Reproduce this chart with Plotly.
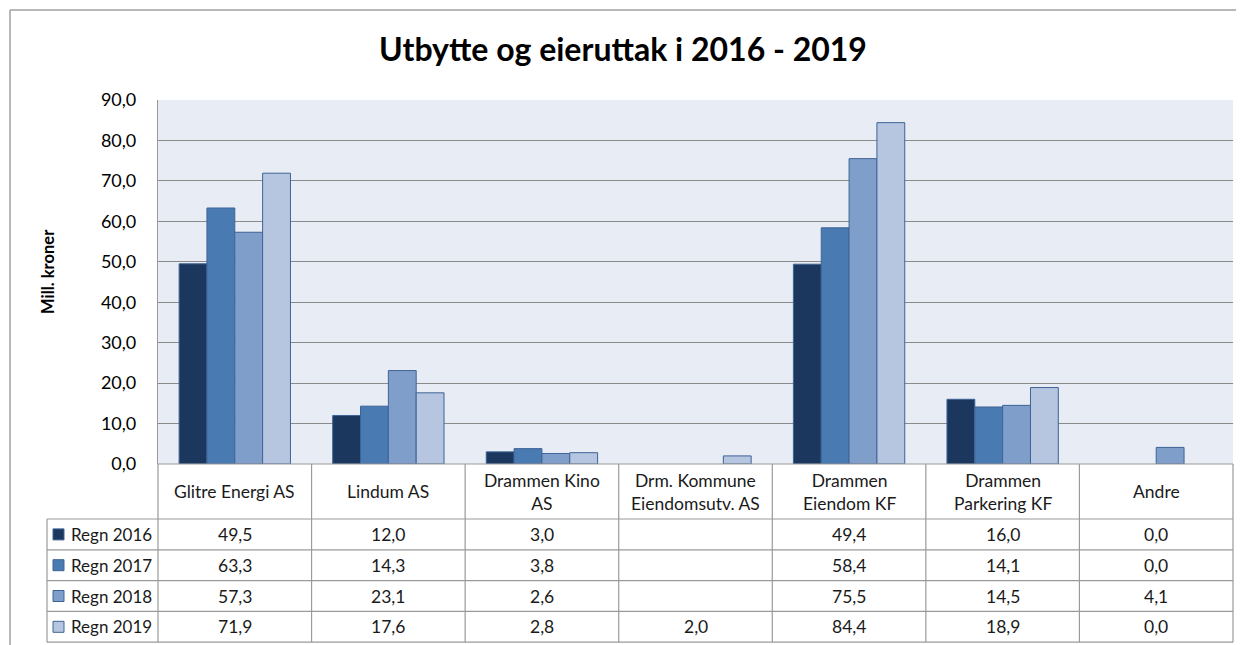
import plotly.graph_objects as go

# ---------------- data ----------------
categories = ["Glitre Energi AS", "Lindum AS", "Drammen Kino<br>AS",
              "Drm. Kommune<br>Eiendomsutv. AS", "Drammen<br>Eiendom KF",
              "Drammen<br>Parkering KF", "Andre"]
series_names = ["Regn 2016", "Regn 2017", "Regn 2018", "Regn 2019"]
regn_2016 = [49.5, 12.0, 3.0, None, 49.4, 16.0, 0.0]
regn_2017 = [63.3, 14.3, 3.8, None, 58.4, 14.1, 0.0]
regn_2018 = [57.3, 23.1, 2.6, None, 75.5, 14.5, 4.1]
regn_2019 = [71.9, 17.6, 2.8, 2.0, 84.4, 18.9, 0.0]
series_values = [regn_2016, regn_2017, regn_2018, regn_2019]
y_ticks = [0, 10, 20, 30, 40, 50, 60, 70, 80, 90]

title_text = "Utbytte og eieruttak i 2016 - 2019"
y_title = "Mill. kroner"

# ---------------- style ----------------
colors = ["#1B375E", "#4A7AB2", "#7F9FCA", "#B6C6E0"]
outline = "#3E6396"
grid_col = "#8A8A8A"
table_col = "#9A9A9A"
FONT = "Lato"

OFF = 8                      # page body margin
PAGE_W, PAGE_H = 1244, 645
W, H = PAGE_W - OFF, PAGE_H - OFF
# plot area in page pixels
L, R, T, B = 158, 1233, 100, 464
HEADER_H = 55
ROW_H = 30.8
LEG_LEFT = 47


def px_x(px):
    return (px - L) / (R - L)


def px_y(py):
    return (B - py) / (B - T)


fig = go.Figure()
x_idx = list(range(len(categories)))
for name, vals, col in zip(series_names, series_values, colors):
    widths = [0 if (v is None or v == 0) else 1 for v in vals]
    fig.add_trace(go.Bar(
        x=x_idx, y=vals, name=name,
        marker=dict(color=col, line=dict(color=outline, width=widths)),
        showlegend=False, hoverinfo="skip",
    ))

shapes = []
annotations = []
n = len(categories)
header_bot = B + HEADER_H
row_tops = [header_bot + i * ROW_H for i in range(len(series_names) + 1)]
table_bot = row_tops[-1]

line = dict(color=table_col, width=1.2)
for k in range(n + 1):
    shapes.append(dict(type="line", xref="paper", yref="paper",
                       x0=k / n, x1=k / n, y0=px_y(B), y1=px_y(table_bot), line=line))
shapes.append(dict(type="line", xref="paper", yref="paper",
                   x0=px_x(LEG_LEFT), x1=px_x(LEG_LEFT),
                   y0=px_y(header_bot), y1=px_y(table_bot), line=line))
shapes.append(dict(type="line", xref="paper", yref="paper",
                   x0=0, x1=1, y0=0, y1=0, line=line))
for yy in row_tops:
    shapes.append(dict(type="line", xref="paper", yref="paper",
                       x0=px_x(LEG_LEFT), x1=1, y0=px_y(yy), y1=px_y(yy), line=line))

for i, c in enumerate(categories):
    annotations.append(dict(x=i, y=px_y(B + HEADER_H / 2), xref="x", yref="paper",
                            text=c, showarrow=False,
                            font=dict(family=FONT, size=17.5, color="#1a1a1a"),
                            xanchor="center", yanchor="middle"))


def fmt(v):
    return "" if v is None else f"{v:.1f}".replace(".", ",")


for r, (name, vals, col) in enumerate(zip(series_names, series_values, colors)):
    yc = row_tops[r] + ROW_H / 2
    shapes.append(dict(type="rect", xref="paper", yref="paper",
                       x0=px_x(53), x1=px_x(64), y0=px_y(yc - 5.5), y1=px_y(yc + 5.5),
                       fillcolor=col, line=dict(color=outline, width=1)))
    annotations.append(dict(x=px_x(69), y=px_y(yc), xref="paper", yref="paper",
                            text=name, showarrow=False,
                            font=dict(family=FONT, size=17, color="#1a1a1a"),
                            xanchor="left", yanchor="middle"))
    for i, v in enumerate(vals):
        annotations.append(dict(x=i, y=px_y(yc), xref="x", yref="paper",
                                text=fmt(v), showarrow=False,
                                font=dict(family=FONT, size=17.5, color="#1a1a1a"),
                                xanchor="center", yanchor="middle"))

annotations.append(dict(x=px_x(48), y=px_y(272), xref="paper", yref="paper",
                        text="<b>" + y_title + "</b>", textangle=-90, showarrow=False,
                        font=dict(family=FONT, size=16.5, color="#000"),
                        xanchor="center", yanchor="middle"))

# outer chart border (top + left)
shapes.append(dict(type="line", xref="paper", yref="paper",
                   x0=px_x(10), x1=px_x(PAGE_W + 5), y0=px_y(10), y1=px_y(10),
                   line=dict(color="#A0A0A0", width=1.5)))
shapes.append(dict(type="line", xref="paper", yref="paper",
                   x0=px_x(10), x1=px_x(10), y0=px_y(10), y1=px_y(PAGE_H + 5),
                   line=dict(color="#A0A0A0", width=1.5)))

fig.update_layout(
    width=W, height=H,
    margin=dict(l=L - OFF, r=PAGE_W - R, t=T - OFF, b=PAGE_H - B),
    paper_bgcolor="white",
    plot_bgcolor="#E8EDF5",
    separators=",.",
    barmode="group", bargap=0.275, bargroupgap=0,
    title=dict(text="<b>" + title_text + "</b>", x=(623 - OFF) / W, xref="container",
               xanchor="center", y=1 - (50 - OFF) / H, yref="container", yanchor="middle",
               font=dict(family=FONT, size=32, color="#000")),
    xaxis=dict(range=[-0.5, n - 0.5], showticklabels=False, showgrid=False,
               zeroline=False, showline=False, ticks=""),
    yaxis=dict(range=[0, 90], tickvals=y_ticks, tickformat=".1f",
               showgrid=True, gridcolor=grid_col, gridwidth=1.3,
               zeroline=False, showline=True, linecolor=table_col, linewidth=1.2,
               ticks="", ticklabelstandoff=17,
               tickfont=dict(family=FONT, size=18, color="#000")),
    shapes=shapes,
    annotations=annotations,
)

fig.write_html("out.html")
